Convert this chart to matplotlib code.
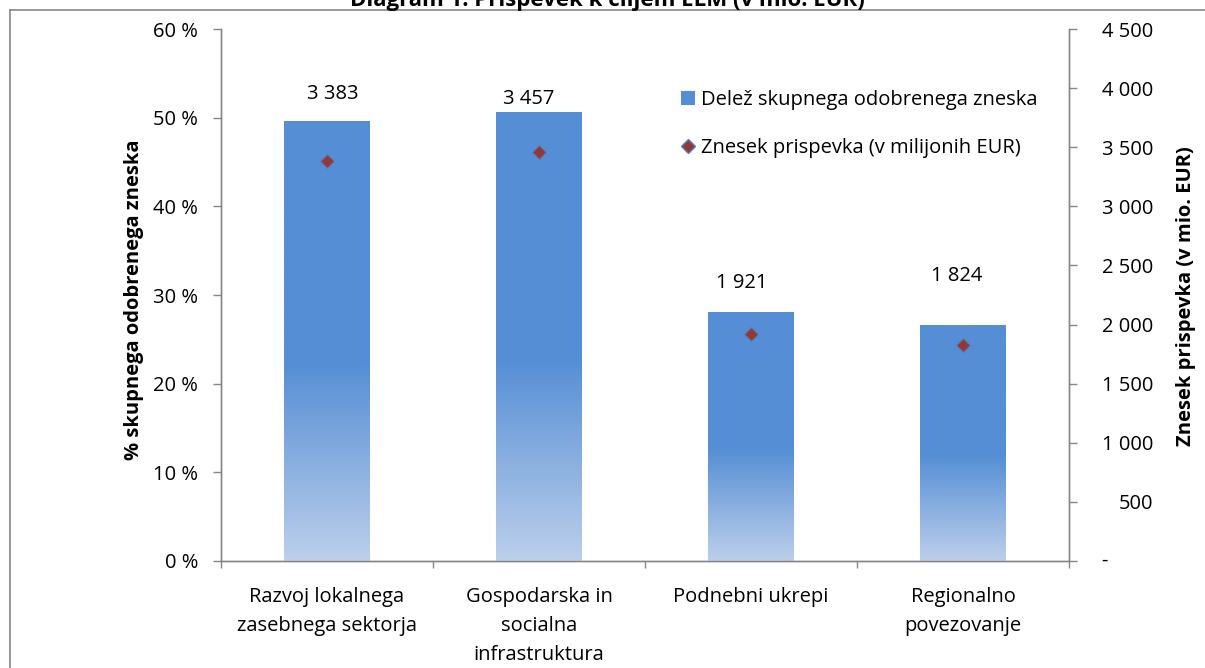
import numpy as np
import matplotlib
matplotlib.use("Agg")
import matplotlib.pyplot as plt
from matplotlib.colors import LinearSegmentedColormap
from matplotlib.lines import Line2D
from matplotlib.patches import Patch
from matplotlib.transforms import ScaledTranslation, blended_transform_factory

# ---- data ----
categories = ["Razvoj lokalnega\nzasebnega sektorja",
              "Gospodarska in\nsocialna\ninfrastruktura",
              "Podnebni ukrepi",
              "Regionalno\npovezovanje"]
share_pct = [49.6, 50.6, 28.1, 26.6]          # Delež skupnega odobrenega zneska (%)
amount_meur = [3383, 3457, 1921, 1824]        # Znesek prispevka (v mio. EUR)
amount_labels = ["3 383", "3 457", "1 921", "1 824"]
pct_ticks = [0, 10, 20, 30, 40, 50, 60]
pct_ticklabels = ["0 %", "10 %", "20 %", "30 %", "40 %", "50 %", "60 %"]
eur_ticks = [0, 500, 1000, 1500, 2000, 2500, 3000, 3500, 4000, 4500]
eur_ticklabels = ["", "500", "1 000", "1 500", "2 000", "2 500", "3 000", "3 500", "4 000", "4 500"]
title = "Diagram 1: Prispevek k ciljem ELM (v mio. EUR)"
legend_labels = ["Delež skupnega odobrenega zneska", "Znesek prispevka (v milijonih EUR)"]

# ---- style ----
FONT = "Open Sans"
FS = 14.5
plt.rcParams["font.family"] = [FONT, "DejaVu Sans"]
GREY = "#868686"
BAR_TOP = "#558ed5"
BAR_BOTTOM = "#bccfeb"
MARK_FACE = "#953735"
MARK_EDGE = "#4f81bd"

W, H = 1205, 668
fig = plt.figure(figsize=(W / 100, H / 100), dpi=100)

def px(x0, y0, x1, y1):
    return [x0 / W, 1 - y1 / H, (x1 - x0) / W, (y1 - y0) / H]

ax = fig.add_axes(px(221, 29, 1069, 561))
ax2 = ax.twinx()

x = np.arange(len(categories))
width = 0.405
bars = ax.bar(x, share_pct, width=width, color=BAR_TOP, zorder=2)

# gradient fill: light at bottom, solid from ~45 % of bar height up
cmap = LinearSegmentedColormap.from_list(
    "g", [(0.0, BAR_BOTTOM), (0.45, BAR_TOP), (1.0, BAR_TOP)])
grad = np.linspace(0, 1, 256).reshape(-1, 1)
for b in bars:
    x0, w, h = b.get_x(), b.get_width(), b.get_height()
    im = ax.imshow(grad, cmap=cmap, origin="lower", aspect="auto",
                   extent=(x0, x0 + w, 0, h), zorder=3, interpolation="bilinear")
    im.set_clip_path(b)

ax.set_xlim(-0.5, len(categories) - 0.5)
ax.set_ylim(0, 60)
ax2.set_ylim(0, 4500)

ax2.plot(x, amount_meur, linestyle="none", marker="D", markersize=7,
         markerfacecolor=MARK_FACE, markeredgecolor=MARK_EDGE, markeredgewidth=0.8, zorder=5)

# data labels (positioned as in the original)
label_y_pct = [52.7, 52.1, 31.3, 32.1]
label_dx_px = [6, -10, -9, -6]
for i, lab in enumerate(amount_labels):
    ax.text(x[i], label_y_pct[i], lab, ha="center", va="center", fontsize=FS,
            transform=ax.transData + ScaledTranslation(label_dx_px[i] / 100, 0, fig.dpi_scale_trans))

# left axis
ax.set_yticks(pct_ticks)
ax.set_yticklabels(pct_ticklabels, fontsize=FS)
ax.tick_params(axis="y", direction="out", length=6, width=1, color=GREY, pad=10.5)
ax.set_ylabel("% skupnega odobrenega zneska", fontsize=FS, fontweight="bold")
ax.yaxis.set_label_coords((144 - 221) / 848, 0.492)

# x axis
ax.set_xticks(x)
ax.set_xticklabels(categories, fontsize=FS, linespacing=1.62)
ax.tick_params(axis="x", length=0, pad=18.5)
ax.set_xticks(np.arange(-0.5, len(categories)), minor=True)
ax.tick_params(axis="x", which="minor", direction="out", length=5, width=1, color=GREY)

# right axis
ax2.set_yticks(eur_ticks)
ax2.set_yticklabels(eur_ticklabels, fontsize=FS)
ax2.tick_params(axis="y", direction="out", length=6, width=1, color=GREY, pad=55)
for t in ax2.get_yticklabels():
    t.set_horizontalalignment("right")
tr = blended_transform_factory(ax2.transAxes, ax2.transData)
ax2.text(1.0, 0, "-", ha="left", va="center", fontsize=FS,
         transform=tr + ScaledTranslation(32 / 100, 0, fig.dpi_scale_trans))
ax2.set_ylabel("Znesek prispevka (v mio. EUR)", fontsize=FS, fontweight="bold")
ax2.yaxis.set_label_coords((1176 - 221) / 848, 0.498)

for a in (ax, ax2):
    a.spines["top"].set_visible(False)
    for s in ("left", "right", "bottom"):
        a.spines[s].set_color(GREY)
        a.spines[s].set_linewidth(1)

# legend
handles = [Patch(facecolor=BAR_TOP, edgecolor="none"),
           Line2D([], [], linestyle="none", marker="D", markersize=7,
                  markerfacecolor=MARK_FACE, markeredgecolor=MARK_EDGE)]
ax2.legend(handles, legend_labels, loc="upper left", bbox_to_anchor=(671 / W, 1 - 80 / H),
           bbox_transform=fig.transFigure, frameon=False, fontsize=FS,
           handlelength=0.7, handleheight=0.7, handletextpad=0.3, labelspacing=1.4, borderpad=0)

# chart border (cropped) and title
fig.add_artist(Line2D([10 / W, 1.0], [1 - 10 / H, 1 - 10 / H], color=GREY, lw=1.2))
fig.add_artist(Line2D([10 / W, 10 / W], [1 - 10 / H, 0.0], color=GREY, lw=1.2))
fig.text(607 / W, 1 - 6 / H, title, ha="center", va="baseline", fontsize=16, fontweight="bold")

fig.savefig("out.png", dpi=100)
